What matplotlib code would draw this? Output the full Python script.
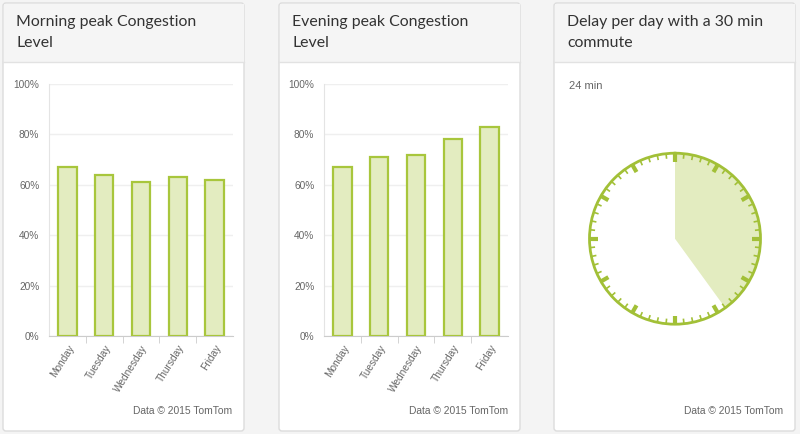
import numpy as np
import matplotlib
matplotlib.use('Agg')
import matplotlib.pyplot as plt
from matplotlib.patches import FancyBboxPatch, Rectangle
from matplotlib.ticker import FuncFormatter

DAYS = ['Monday', 'Tuesday', 'Wednesday', 'Thursday', 'Friday']
MORNING = [67, 64, 61, 63, 62]
EVENING = [67, 71, 72, 78, 83]
DELAY_MIN = 24
CLOCK_MIN = 60

TITLES = ['Morning peak Congestion\nLevel', 'Evening peak Congestion\nLevel',
          'Delay per day with a 30 min\ncommute']

PAGE_BG = '#f4f4f4'
HEAD_BG = '#f5f5f5'
BORDER = '#dcdcdc'
FILL = '#e3ecc0'
EDGE = '#a8c63c'
GREEN = '#a2c037'
TXT = '#333333'
SUB = '#666666'

W, H = 800, 434
fig = plt.figure(figsize=(W / 100, H / 100), dpi=100, facecolor=PAGE_BG)

# background layer in pixel units (y down)
bg = fig.add_axes([0, 0, 1, 1])
bg.set_xlim(0, W); bg.set_ylim(H, 0)
bg.axis('off')

card_x = [3, 279, 554]
card_w = 241
for i, x0 in enumerate(card_x):
    bg.add_patch(FancyBboxPatch((x0, 3), card_w, 428, boxstyle='round,pad=0,rounding_size=3',
                                facecolor='white', edgecolor=BORDER, linewidth=1))
    bg.add_patch(Rectangle((x0 + 0.5, 3.5), card_w - 1, 58.5, facecolor=HEAD_BG, edgecolor='none'))
    bg.plot([x0, x0 + card_w], [62, 62], color='#e2e2e2', lw=1)
    bg.text(x0 + 13, 32.5, TITLES[i], ha='left', va='center', fontsize=11.4, color=TXT,
            family='Lato', linespacing=1.6)

def pct(v, _):
    return f'{v:.0f}%'

def bar_panel(px, values):
    left, right, top, bottom = px, px + 184, 84, 336
    ax = fig.add_axes([left / W, (H - bottom) / H, (right - left) / W, (bottom - top) / H])
    ax.set_facecolor('white')
    ax.bar(DAYS, values, width=0.5, color=FILL, edgecolor=EDGE, linewidth=1.6, zorder=3)
    ax.set_xlim(-0.5, len(DAYS) - 0.5)
    ax.set_ylim(0, 100)
    ax.set_yticks(range(0, 101, 20))
    ax.yaxis.set_major_formatter(FuncFormatter(pct))
    ax.grid(axis='y', color='#efefef', lw=1, zorder=0)
    for s in ['top', 'right']:
        ax.spines[s].set_visible(False)
    ax.spines['left'].set_color('#e4e4e4')
    ax.spines['bottom'].set_color('#cccccc')
    ax.tick_params(axis='y', length=0, pad=7, labelsize=7.3, labelcolor=SUB)
    ax.tick_params(axis='x', which='major', length=0, pad=5, labelsize=7.3, labelcolor=SUB)
    ax.set_xticks(np.arange(len(DAYS) - 1) + 0.5, minor=True)
    ax.tick_params(axis='x', which='minor', length=5, color='#cccccc')
    for lbl in ax.get_xticklabels():
        lbl.set_rotation(58); lbl.set_ha('right'); lbl.set_va('top')
        lbl.set_rotation_mode('anchor')
    for lbl in ax.get_xticklabels() + ax.get_yticklabels():
        lbl.set_family('Liberation Sans')
    return ax

bar_panel(49, MORNING)
bar_panel(324, EVENING)

for x0 in card_x:
    bg.text(x0 + 229, 411, 'Data \u00a9 2015 TomTom', ha='right', va='center',
            fontsize=7.4, color=SUB, family='Liberation Sans')
bg.text(569, 86, f'{DELAY_MIN} min', ha='left', va='center', fontsize=8, color=SUB,
        family='Liberation Sans')

# clock
cx, cy, r = 675, 238.7, 85.5
axc = fig.add_axes([(cx - r) / W, (H - cy - r) / H, 2 * r / W, 2 * r / H], projection='polar')
axc.set_theta_zero_location('N')
axc.set_theta_direction(-1)
axc.set_ylim(0, 1)
axc.bar(0, 1, width=2 * np.pi * DELAY_MIN / CLOCK_MIN, align='edge', color=FILL,
        linewidth=0, zorder=1)
for m in range(CLOCK_MIN):
    th = 2 * np.pi * m / CLOCK_MIN
    if m % 5 == 0:
        axc.plot([th, th], [0.9, 1.0], color=GREEN, lw=3, solid_capstyle='butt', zorder=3)
    else:
        axc.plot([th, th], [0.94, 1.0], color=GREEN, lw=1.2, solid_capstyle='butt', zorder=3)
axc.grid(False)
axc.set_xticks([]); axc.set_yticks([])
axc.spines['polar'].set_color(GREEN)
axc.spines['polar'].set_linewidth(2)
axc.set_facecolor('white')

fig.savefig('out.png', dpi=100, facecolor=PAGE_BG)
